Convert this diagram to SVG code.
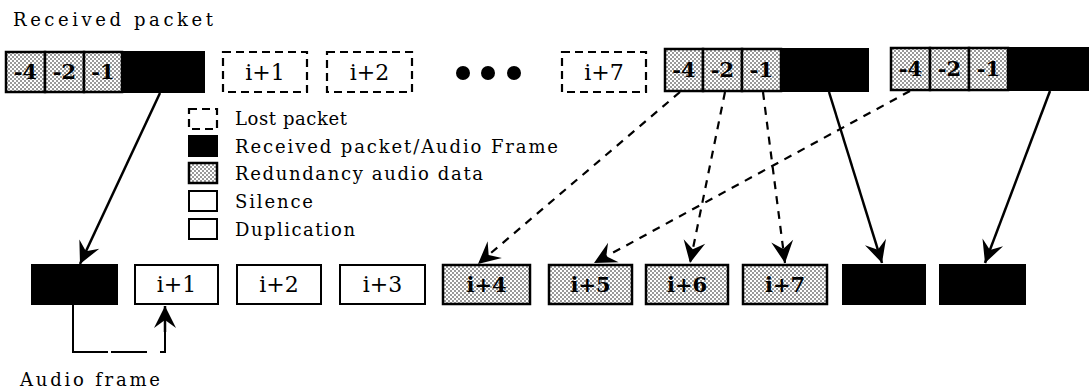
<svg xmlns="http://www.w3.org/2000/svg" width="1091" height="392" viewBox="0 0 1091 392">
  <style>
    .lbl { font-family: "DejaVu Serif", "Liberation Serif", serif; fill: #000; }
    .title { font-size: 18px; }
    .leg { font-size: 18px; }
    .box { font-size: 22px; text-anchor: middle; }
    .cell { font-size: 21px; font-weight: bold; text-anchor: middle; }
    .lost { fill: #fff; stroke: #000; stroke-width: 2.2; stroke-dasharray: 8 5; }
    .black { fill: #000; stroke: #000; stroke-width: 2; }
    .red { fill: url(#stipple); stroke: #000; stroke-width: 2.5; }
    .plain { fill: #fff; stroke: #000; stroke-width: 2; }
    .solid { fill: none; stroke: #000; stroke-width: 2.5; marker-end: url(#head); }
    .dash { fill: none; stroke: #000; stroke-width: 2.2; stroke-dasharray: 8 7; marker-end: url(#head); }
    .plainline { fill: none; stroke: #000; stroke-width: 2; }
  </style>
  <defs>
    <!-- dotted halftone fill for redundancy data -->
    <pattern id="stipple" width="4" height="4" patternUnits="userSpaceOnUse">
      <rect width="4" height="4" fill="#fff"/>
      <circle cx="1" cy="1" r="0.75" fill="#000"/>
      <circle cx="3" cy="3" r="0.75" fill="#000"/>
    </pattern>
    <marker id="head" viewBox="-24 -12 26 24" refX="0" refY="0" markerWidth="26" markerHeight="24" markerUnits="userSpaceOnUse" orient="auto">
      <path d="M0,0 L-22,-11 L-14,0 L-22,11 Z" fill="#000"/>
    </marker>
  </defs>

  <rect width="1091" height="392" fill="#fff"/>

  <text class="lbl title" x="13" y="26" textLength="200">Received packet</text>
  <text class="lbl title" x="20" y="386" textLength="140">Audio frame</text>

  <!-- received packets -->
  <g id="pkt-i">
    <rect class="red" x="6" y="52" width="39" height="40"/>
    <rect class="red" x="45" y="52" width="39" height="40"/>
    <rect class="red" x="84" y="52" width="38" height="40"/>
    <rect class="black" x="122" y="52" width="82" height="40"/>
    <text class="lbl cell" x="25.5" y="79">-4</text>
    <text class="lbl cell" x="64.5" y="79">-2</text>
    <text class="lbl cell" x="103" y="79">-1</text>
  </g>
  <g id="lost-i1">
    <rect class="lost" x="223" y="52" width="84" height="40"/>
    <text class="lbl box" x="265" y="80">i+1</text>
  </g>
  <g id="lost-i2">
    <rect class="lost" x="327" y="52" width="85" height="40"/>
    <text class="lbl box" x="369.5" y="80">i+2</text>
  </g>
  <g id="ellipsis">
    <circle cx="463" cy="73" r="7" fill="#000"/>
    <circle cx="488" cy="73" r="7" fill="#000"/>
    <circle cx="514" cy="73" r="7" fill="#000"/>
  </g>
  <g id="lost-i7">
    <rect class="lost" x="562" y="52" width="84" height="40"/>
    <text class="lbl box" x="604" y="80">i+7</text>
  </g>
  <g id="pkt-i8">
    <rect class="red" x="665" y="49" width="38" height="42"/>
    <rect class="red" x="703" y="49" width="39" height="42"/>
    <rect class="red" x="742" y="49" width="39" height="42"/>
    <rect class="black" x="781" y="49" width="87" height="42"/>
    <text class="lbl cell" x="684" y="77">-4</text>
    <text class="lbl cell" x="722.5" y="77">-2</text>
    <text class="lbl cell" x="761.5" y="77">-1</text>
  </g>
  <g id="pkt-i9">
    <rect class="red" x="891" y="48" width="39" height="42"/>
    <rect class="red" x="930" y="48" width="39" height="42"/>
    <rect class="red" x="969" y="48" width="39" height="42"/>
    <rect class="black" x="1008" y="48" width="80" height="42"/>
    <text class="lbl cell" x="910.5" y="76">-4</text>
    <text class="lbl cell" x="949.5" y="76">-2</text>
    <text class="lbl cell" x="988.5" y="76">-1</text>
  </g>

  <!-- legend -->
  <g id="legend">
    <rect class="lost" x="189" y="109" width="28" height="20" stroke-dasharray="6 6"/>
    <text class="lbl leg" x="235" y="125" textLength="112">Lost packet</text>
    <rect class="black" x="189" y="136" width="28" height="20"/>
    <text class="lbl leg" x="235" y="153" textLength="323">Received packet/Audio Frame</text>
    <rect class="red" x="189" y="163" width="28" height="20" stroke-width="2"/>
    <text class="lbl leg" x="235" y="180" textLength="248">Redundancy audio data</text>
    <rect class="plain" x="189" y="191" width="28" height="20"/>
    <text class="lbl leg" x="235" y="208" textLength="78">Silence</text>
    <rect class="plain" x="189" y="219" width="28" height="20"/>
    <text class="lbl leg" x="235" y="236" textLength="120">Duplication</text>
  </g>

  <!-- audio frames -->
  <g id="frame-i">
    <rect class="black" x="32" y="265" width="85" height="39"/>
  </g>
  <g id="frame-i1">
    <rect class="plain" x="135" y="265" width="83" height="39"/>
    <text class="lbl box" x="176.5" y="292">i+1</text>
  </g>
  <g id="frame-i2">
    <rect class="plain" x="237" y="265" width="84" height="39"/>
    <text class="lbl box" x="279" y="292">i+2</text>
  </g>
  <g id="frame-i3">
    <rect class="plain" x="340" y="265" width="85" height="39"/>
    <text class="lbl box" x="382.5" y="292">i+3</text>
  </g>
  <g id="frame-i4">
    <rect class="red" x="443" y="265" width="87" height="39"/>
    <text class="lbl cell" x="486.5" y="292">i+4</text>
  </g>
  <g id="frame-i5">
    <rect class="red" x="549" y="265" width="83" height="39"/>
    <text class="lbl cell" x="590.5" y="292">i+5</text>
  </g>
  <g id="frame-i6">
    <rect class="red" x="646" y="265" width="82" height="39"/>
    <text class="lbl cell" x="687" y="292">i+6</text>
  </g>
  <g id="frame-i7">
    <rect class="red" x="743" y="265" width="84" height="39"/>
    <text class="lbl cell" x="785" y="292">i+7</text>
  </g>
  <g id="frame-i8">
    <rect class="black" x="843" y="265" width="82" height="39"/>
  </g>
  <g id="frame-i9">
    <rect class="black" x="940" y="265" width="85" height="39"/>
  </g>

  <!-- connectors -->
  <g id="connectors">
    <path class="solid" d="M160,93 L80,264"/>
    <path class="plainline" d="M73,305 V352 H108"/>
    <path class="plainline" d="M111,352 H147"/>
    <path class="plainline" d="M160,352 H165 V330"/>
    <path class="solid" d="M165,332 V306" stroke-width="2"/>
    <path class="dash" d="M680,92 L478,264"/>
    <path class="dash" d="M725,92 L690,263"/>
    <path class="dash" d="M763,92 L785,263"/>
    <path class="solid" d="M829,92 L882,263"/>
    <path class="dash" d="M910,91 L594,263"/>
    <path class="solid" d="M1050,91 L985,263"/>
  </g>
</svg>
